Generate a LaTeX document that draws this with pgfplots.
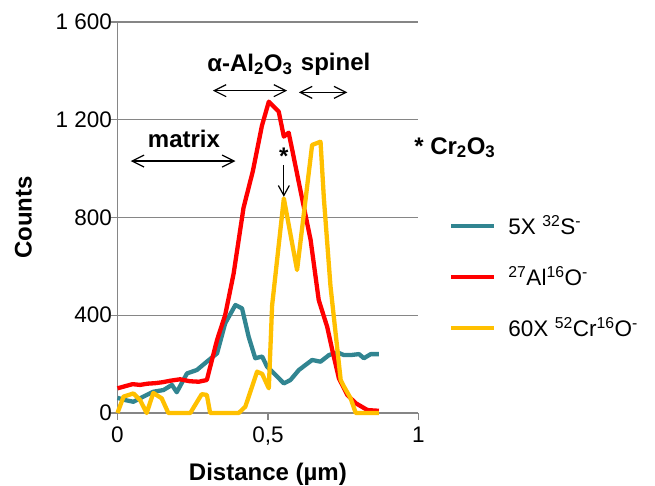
\documentclass[border=0pt]{standalone}
\usepackage{fontspec}
\setmainfont{Liberation Sans}
\usepackage{pgfplots}
\pgfplotsset{compat=1.18}
\usetikzlibrary{arrows.meta}
\definecolor{axisgray}{RGB}{134,134,134}
\definecolor{teal1}{RGB}{49,133,145}
\definecolor{red1}{RGB}{255,0,0}
\definecolor{gold1}{RGB}{255,192,0}
\newcommand{\ticksfont}{\fontsize{22.5bp}{27bp}\selectfont}
\newcommand{\labfont}{\fontsize{24bp}{28bp}\selectfont\bfseries}
\begin{document}
\begin{tikzpicture}
\useasboundingbox (0,0) rectangle (655bp,486bp);
\begin{axis}[
  at={(117.5bp,73bp)}, anchor=south west,
  scale only axis, width=300.8bp, height=391bp,
  xmin=0, xmax=1, ymin=0, ymax=1600,
  axis x line*=bottom, axis y line*=left,
  axis line style={-, draw=axisgray, line width=1.3bp},
  xtick={0,0.5,1}, xticklabels={0,{0,5},1},
  ytick={0,400,800,1200,1600}, yticklabels={0,400,800,1 200,1 600},
  tick align=outside, major tick length=6.5bp,
  tick style={draw=axisgray, line width=1.3bp},
  ymajorgrids, grid style={draw=axisgray, line width=1.3bp},
  /pgf/number format/assume math mode=true,
  tick label style={font=\ticksfont},
  yticklabel style={xshift=4.5bp},
  xticklabel style={yshift=-4bp},
  ylabel={Counts}, xlabel={Distance (µm)},
  label style={font=\labfont},
  ylabel style={yshift=17bp},
  xlabel style={yshift=-11bp},
  clip=false,
  legend style={draw=none, fill=none, at={(1.102,0.348)}, anchor=west,
    font=\ticksfont, row sep=27bp, inner sep=0pt},
  legend cell align=left,
  legend image code/.code={\draw[#1] (0bp,0bp) -- (43bp,0bp); \path (53bp,0bp);},
]
\addplot[teal1, line width=4.3bp, line join=round] coordinates {
(0.000,62) (0.025,53) (0.053,46) (0.086,67) (0.119,87) (0.153,94) (0.181,115)
(0.197,85) (0.231,162) (0.264,176) (0.297,210) (0.331,244) (0.358,367)
(0.392,442) (0.414,428) (0.436,312) (0.458,224) (0.481,231) (0.497,190)
(0.531,149) (0.553,121) (0.575,135) (0.603,176) (0.647,217) (0.675,210)
(0.703,237) (0.731,248) (0.753,237) (0.775,237) (0.803,241) (0.819,224)
(0.842,241) (0.869,241)};
\addlegendentry{5X \textsuperscript{32}S\textsuperscript{-}}
\addplot[red1, line width=4.3bp, line join=round] coordinates {
(0.000,101) (0.050,118) (0.075,115) (0.100,120) (0.125,122) (0.150,126)
(0.175,132) (0.208,138) (0.240,130) (0.270,128) (0.297,135) (0.331,299)
(0.358,401) (0.386,570) (0.419,840) (0.450,990) (0.480,1175) (0.503,1274)
(0.536,1233) (0.553,1131) (0.569,1147) (0.581,1076) (0.608,912) (0.642,708)
(0.669,462) (0.697,353) (0.714,258) (0.736,142) (0.764,74) (0.792,40)
(0.831,12) (0.869,9)};
\addlegendentry{\textsuperscript{27}Al\textsuperscript{16}O\textsuperscript{-}}
\addplot[gold1, line width=4.3bp, line join=round] coordinates {
(0.000,0) (0.020,67) (0.053,80) (0.075,53) (0.097,0) (0.119,82) (0.147,60)
(0.169,0) (0.242,0) (0.280,77) (0.297,74) (0.308,0) (0.403,0) (0.425,26)
(0.464,169) (0.481,160) (0.503,101) (0.514,440) (0.553,878) (0.597,585)
(0.647,1097) (0.675,1110) (0.686,880) (0.708,520) (0.742,135) (0.753,108)
(0.775,60) (0.792,0) (0.869,0)};
\addlegendentry{60X \textsuperscript{52}Cr\textsuperscript{16}O\textsuperscript{-}}
% annotations
\node[font=\labfont, anchor=base] at (axis cs:0.221,1086) {matrix};
\node[font=\labfont, anchor=base] at (axis cs:0.44,1399) {α-Al\textsubscript{2}O\textsubscript{3}};
\node[font=\labfont, anchor=base] at (axis cs:0.725,1400) {spinel};
\draw[{Straight Barb[length=12bp,width=12bp]}-{Straight Barb[length=12bp,width=12bp]}, line width=1.2bp]
  (axis cs:0.044,1031) -- (axis cs:0.392,1031);
\draw[{Straight Barb[length=12bp,width=12bp]}-{Straight Barb[length=12bp,width=12bp]}, line width=1.2bp]
  (axis cs:0.317,1319) -- (axis cs:0.564,1319);
\draw[{Straight Barb[length=12bp,width=12bp]}-{Straight Barb[length=12bp,width=12bp]}, line width=1.2bp]
  (axis cs:0.603,1312) -- (axis cs:0.764,1312);
\node[font=\labfont] at (axis cs:0.553,1050) {*};
\draw[-{Straight Barb[length=10bp,width=11bp]}, line width=1.2bp]
  (axis cs:0.553,1015) -- (axis cs:0.553,885);
\node[font=\labfont, anchor=base west] at (axis cs:0.975,1059) {* Cr\textsubscript{2}O\textsubscript{3}};
\end{axis}
\end{tikzpicture}
\end{document}
